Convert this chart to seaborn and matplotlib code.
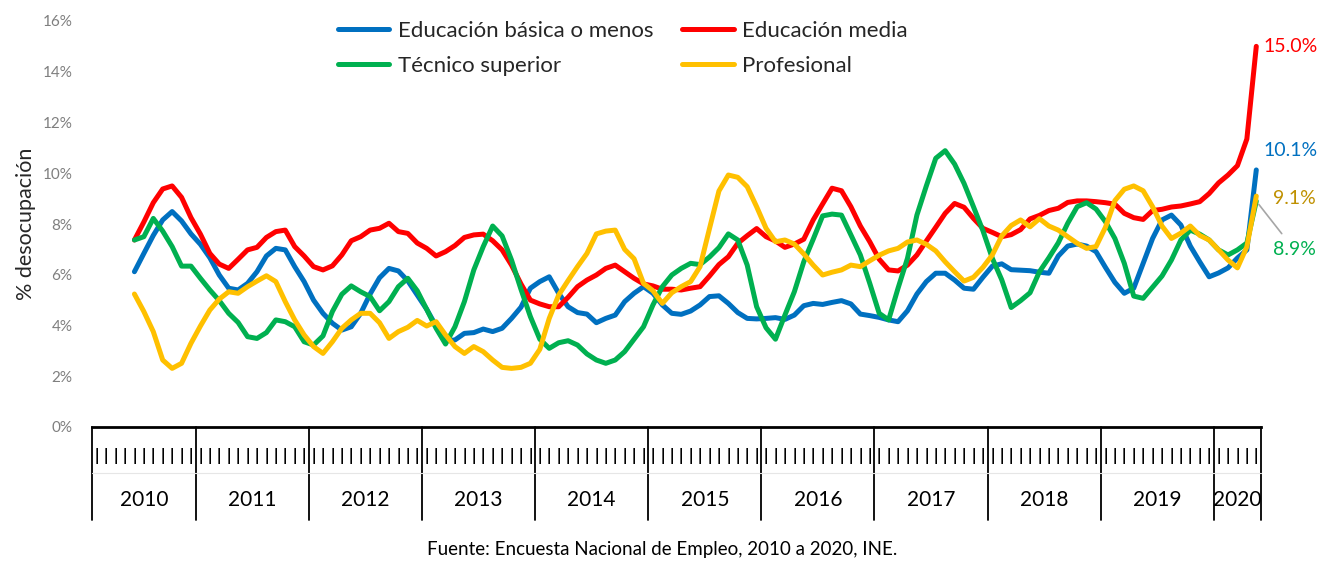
import numpy as np
import pandas as pd
import matplotlib
matplotlib.use("Agg")
import matplotlib.pyplot as plt
import seaborn as sns
from matplotlib.lines import Line2D
from matplotlib.transforms import blended_transform_factory

# --- data (% desocupación, trimestres móviles) ---
years = ["2010", "2011", "2012", "2013", "2014", "2015",
         "2016", "2017", "2018", "2019", "2020"]
months_per_year = [11, 12, 12, 12, 12, 12, 12, 12, 12, 12, 5]
n_lead = 4  # categorías de 2010 sin dato

basica = [6.12, 6.84, 7.55, 8.16, 8.49, 8.12, 7.61, 7.20, 6.67, 5.99,
          5.47, 5.40, 5.66, 6.12, 6.74, 7.04, 6.98, 6.32, 5.73, 5.00,
          4.48, 4.09, 3.82, 3.95, 4.48, 5.24, 5.88, 6.25, 6.15, 5.76,
          5.20, 4.64, 3.98, 3.40, 3.43, 3.69, 3.72, 3.86, 3.76, 3.89,
          4.28, 4.72, 5.47, 5.73, 5.92, 5.27, 4.74, 4.51, 4.45, 4.11,
          4.28, 4.41, 4.94, 5.27, 5.53, 5.27, 4.81, 4.48, 4.44, 4.57,
          4.81, 5.14, 5.17, 4.87, 4.51, 4.28, 4.26, 4.28, 4.31, 4.24,
          4.41, 4.78, 4.87, 4.83, 4.91, 4.98, 4.85, 4.45, 4.39, 4.32,
          4.22, 4.15, 4.58, 5.24, 5.73, 6.06, 6.06, 5.79, 5.47, 5.43,
          5.90, 6.34, 6.43, 6.20, 6.18, 6.16, 6.10, 6.06, 6.74, 7.13,
          7.21, 7.13, 6.91, 6.29, 5.70, 5.27, 5.47, 6.45, 7.43, 8.16,
          8.35, 7.96, 7.13, 6.51, 5.92, 6.07, 6.27, 6.66, 6.98, 10.13]

media = [7.37, 8.08, 8.84, 9.38, 9.50, 9.05, 8.25, 7.60, 6.84, 6.42,
         6.25, 6.61, 6.98, 7.08, 7.47, 7.70, 7.76, 7.11, 6.74, 6.32,
         6.19, 6.35, 6.78, 7.34, 7.50, 7.76, 7.83, 8.03, 7.70, 7.63,
         7.25, 7.04, 6.74, 6.91, 7.15, 7.47, 7.57, 7.60, 7.34, 6.98,
         6.38, 5.64, 5.00, 4.85, 4.74, 4.74, 5.11, 5.53, 5.79, 5.99,
         6.25, 6.38, 6.12, 5.86, 5.64, 5.56, 5.43, 5.43, 5.40, 5.47,
         5.53, 5.95, 6.40, 6.71, 7.24, 7.54, 7.82, 7.50, 7.33, 7.08,
         7.21, 7.40, 8.16, 8.79, 9.41, 9.31, 8.68, 7.92, 7.30, 6.61,
         6.19, 6.15, 6.38, 6.78, 7.33, 7.87, 8.42, 8.81, 8.66, 8.22,
         7.83, 7.67, 7.50, 7.58, 7.78, 8.20, 8.34, 8.53, 8.62, 8.85,
         8.91, 8.91, 8.88, 8.84, 8.78, 8.42, 8.25, 8.18, 8.53, 8.58,
         8.67, 8.71, 8.79, 8.88, 9.20, 9.62, 9.93, 10.30, 11.35, 15.00]

tecnico = [7.37, 7.50, 8.22, 7.72, 7.11, 6.34, 6.34, 5.86, 5.40, 4.98,
           4.48, 4.12, 3.56, 3.49, 3.72, 4.22, 4.15, 3.95, 3.36, 3.23,
           3.59, 4.55, 5.23, 5.56, 5.33, 5.14, 4.58, 4.94, 5.53, 5.86,
           5.37, 4.64, 3.89, 3.27, 3.95, 4.94, 6.19, 7.11, 7.92, 7.53,
           6.58, 5.43, 4.35, 3.46, 3.10, 3.32, 3.40, 3.23, 2.88, 2.64,
           2.51, 2.64, 2.97, 3.46, 3.95, 4.81, 5.53, 5.99, 6.25, 6.45,
           6.40, 6.70, 7.07, 7.61, 7.37, 6.38, 4.74, 3.91, 3.46, 4.41,
           5.33, 6.51, 7.40, 8.32, 8.39, 8.35, 7.57, 6.78, 5.66, 4.48,
           4.22, 5.47, 6.65, 8.35, 9.50, 10.59, 10.89, 10.36, 9.60, 8.68,
           7.74, 6.65, 5.80, 4.71, 4.98, 5.29, 6.12, 6.67, 7.26, 8.03,
           8.68, 8.84, 8.59, 8.09, 7.43, 6.45, 5.16, 5.07, 5.51, 5.95,
           6.58, 7.37, 7.76, 7.60, 7.37, 6.98, 6.78, 6.98, 7.25, 8.90]

profesional = [5.24, 4.55, 3.76, 2.64, 2.31, 2.51, 3.30, 3.98, 4.61, 5.04,
               5.33, 5.27, 5.53, 5.75, 5.96, 5.73, 4.94, 4.22, 3.63, 3.17,
               2.90, 3.36, 3.89, 4.22, 4.48, 4.48, 4.11, 3.49, 3.76, 3.93,
               4.20, 3.98, 4.15, 3.63, 3.17, 2.90, 3.17, 2.97, 2.64, 2.35,
               2.31, 2.35, 2.51, 3.06, 4.28, 5.20, 5.77, 6.32, 6.84, 7.61,
               7.72, 7.76, 7.00, 6.63, 5.66, 5.37, 4.87, 5.29, 5.53, 5.73,
               6.32, 7.82, 9.30, 9.93, 9.84, 9.47, 8.68, 7.83, 7.30, 7.37,
               7.21, 6.82, 6.38, 5.99, 6.10, 6.19, 6.38, 6.32, 6.55, 6.77,
               6.94, 7.04, 7.29, 7.37, 7.20, 6.94, 6.51, 6.12, 5.75, 5.90,
               6.29, 6.78, 7.53, 7.94, 8.16, 7.89, 8.21, 7.92, 7.76, 7.50,
               7.24, 7.04, 7.11, 7.87, 8.92, 9.37, 9.50, 9.31, 8.68, 7.92,
               7.43, 7.64, 7.92, 7.55, 7.37, 6.98, 6.58, 6.27, 7.10, 9.10]

series_names = ["Educación básica o menos", "Educación media",
                "Técnico superior", "Profesional"]
series_values = [basica, media, tecnico, profesional]
colors = ["#0070C0", "#FF0000", "#00B050", "#FFC000"]
label_colors = ["#0070C0", "#FF0000", "#00B050", "#BF9000"]

n_cat = sum(months_per_year)
frames = []
for name, vals in zip(series_names, series_values):
    frames.append(pd.DataFrame({"cat": np.arange(n_lead, n_lead + len(vals)),
                                "valor": vals, "serie": name}))
df = pd.concat(frames, ignore_index=True)

sns.set_theme(style="white")
plt.rcParams["font.family"] = ["Lato", "DejaVu Sans"]

W, H = 1317, 561
fig = plt.figure(figsize=(W / 100, H / 100), dpi=100)
ax = fig.add_axes([92 / W, 134 / H, 1169 / W, 406 / H])

sns.lineplot(data=df, x="cat", y="valor", hue="serie", hue_order=series_names,
             palette=colors, linewidth=3.6, sort=False, legend=False, ax=ax,
             solid_capstyle="round", solid_joinstyle="round")

ax.set_xlim(-0.5, n_cat - 0.5)
ax.set_ylim(0, 16)
ax.set_xlabel("")
ax.set_ylabel("% desocupación", fontsize=15.5, labelpad=5)

yt = np.arange(0, 17, 2)
ax.set_yticks(yt)
ax.set_yticklabels([f"{v}%" for v in yt], color="#7F7F7F", fontsize=11)
ax.set_xticks(np.arange(n_cat))
ax.set_xticklabels(["|"] * n_cat, fontsize=12, color="black", fontweight="bold")
ax.tick_params(axis="both", length=0)
ax.tick_params(axis="y", pad=14)
ax.tick_params(axis="x", pad=15)

for s in ["top", "right", "left"]:
    ax.spines[s].set_visible(False)
ax.spines["bottom"].set_color("black")
ax.spines["bottom"].set_linewidth(2)

# category box: year separators and labels
trans = blended_transform_factory(ax.transData, ax.transAxes)
bounds = np.concatenate([[0], np.cumsum(months_per_year)]) - 0.5
for b in bounds:
    ax.plot([b, b], [0, -0.229], transform=trans, color="black", lw=1.3,
            clip_on=False)
ax.plot([bounds[0], bounds[-1]], [-0.113, -0.113], transform=trans,
        color="#E6E6E6", lw=0.8, clip_on=False)
for yr, a, b in zip(years, bounds[:-1], bounds[1:]):
    ax.text((a + b) / 2, -0.18, yr, transform=trans, ha="center", va="center",
            fontsize=15, color="black")

# end labels
last = n_cat - 1
ax.annotate("15.0%", xy=(last, media[-1]), xytext=(5, 0), textcoords="offset points",
            ha="left", va="center", color=label_colors[1], fontsize=14)
ax.annotate("10.1%", xy=(last, basica[-1]), xytext=(5, 14), textcoords="offset points",
            ha="left", va="center", color=label_colors[0], fontsize=14)
ax.annotate("9.1%", xy=(last, profesional[-1]), xytext=(12, -2), textcoords="offset points",
            ha="left", va="center", color=label_colors[3], fontsize=14)
ax.annotate("8.9%", xy=(last, tecnico[-1]), xytext=(12, -35), textcoords="offset points",
            ha="left", va="center", color=label_colors[2], fontsize=14,
            arrowprops=dict(arrowstyle="-", color="#A6A6A6", lw=1.2,
                            shrinkA=4, shrinkB=3))

# legend (row-wise order in 2 columns)
handles = [Line2D([0], [0], color=c, lw=3.6, solid_capstyle="round") for c in colors]
order = [0, 2, 1, 3]
ax.legend([handles[i] for i in order], [series_names[i] for i in order],
          ncol=2, loc="upper left", bbox_to_anchor=(338 / W, 1 - 21 / H),
          bbox_transform=fig.transFigure, frameon=False, fontsize=16,
          handlelength=2.3, handletextpad=0.4, columnspacing=1.3,
          labelspacing=0.68, borderpad=0, borderaxespad=0)

fig.text(662 / W, 1 - 549 / H, "Fuente: Encuesta Nacional de Empleo, 2010 a 2020, INE.",
         ha="center", va="center", fontsize=13.5, color="black")

fig.savefig("out.png", dpi=100)
